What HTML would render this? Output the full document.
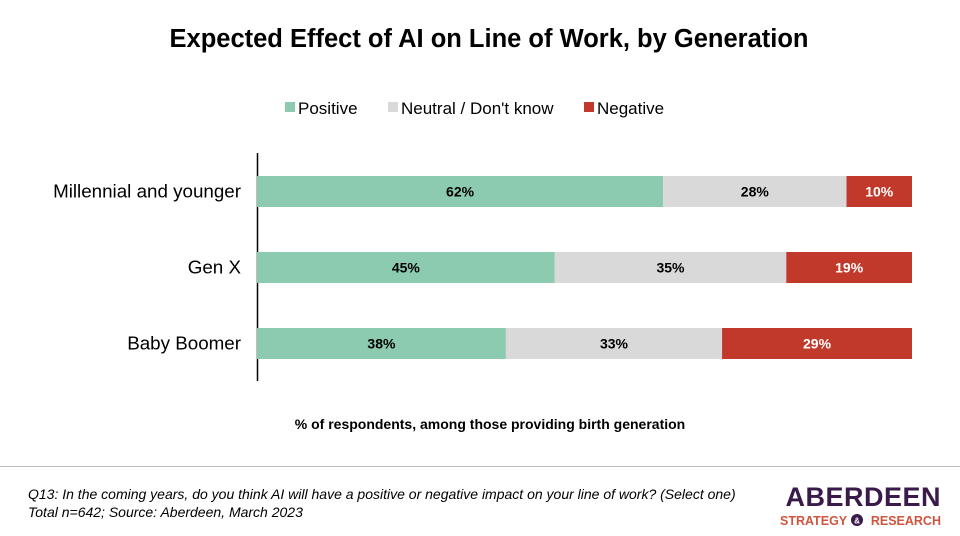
<!DOCTYPE html>
<html><head><meta charset="utf-8"><style>
body{margin:0;background:#fff;font-family:"Liberation Sans",Arial,sans-serif}
#wrap{position:relative;width:960px;height:536px;overflow:hidden}
</style></head><body>
<div id="wrap">
<svg id="chart" width="960" height="536">
<text x="489" y="47" text-anchor="middle" font-size="25.5" font-weight="bold" fill="#000">Expected Effect of AI on Line of Work, by Generation</text>
<g id="legend"></g>
<line x1="257.5" y1="153" x2="257.5" y2="381" stroke="#000" stroke-width="1.5"/>
<g id="bars"></g>
<text x="490" y="429" text-anchor="middle" font-size="14" font-weight="bold">% of respondents, among those providing birth generation</text>
<line x1="0" y1="466.5" x2="960" y2="466.5" stroke="#bbb" stroke-width="1"/>
<text x="28" y="499" font-size="14" font-style="italic">Q13: In the coming years, do you think AI will have a positive or negative impact on your line of work? (Select one)</text>
<text x="28" y="517" font-size="14" font-style="italic">Total n=642; Source: Aberdeen, March 2023</text>
<g>
<text x="941" y="506" text-anchor="end" font-size="27" font-weight="bold" fill="#3a1a4a" letter-spacing="0.5">ABERDEEN</text>
<text x="780" y="525" font-size="12.5" font-weight="bold" fill="#d0553f">STRATEGY</text>
<circle cx="857" cy="520" r="6" fill="#3a1a4a"/>
<text x="857" y="523.5" text-anchor="middle" font-size="8" font-weight="bold" fill="#fff">&amp;</text>
<text x="941" y="525" text-anchor="end" font-size="12.5" font-weight="bold" fill="#d0553f">RESEARCH</text>
</g>
</svg>
</div>
<script>
const categories = ["Millennial and younger","Gen X","Baby Boomer"];
const seriesNames = ["Positive","Neutral / Don't know","Negative"];
const positive = [62,45,38];
const neutral = [28,35,33];
const negative = [10,19,29];
const colors = ["#8ccbb0","#d9d9d9","#c0392b"];
const labelColors = ["#000","#000","#fff"];
const NS="http://www.w3.org/2000/svg";
const x0=257, x1=912, yTop=153, band=76, barH=31;
const xScale = (v,total)=> (v/total)*(x1-x0);
const yScale = i => yTop + 23 + i*band;
function mk(tag,attrs,parent){const e=document.createElementNS(NS,tag);for(const k in attrs)e.setAttribute(k,attrs[k]);parent.appendChild(e);return e;}
const bars=document.getElementById('bars');
const series=[positive,neutral,negative];
categories.forEach((c,i)=>{
  const total=positive[i]+neutral[i]+negative[i];
  const y=yScale(i);
  const lab=mk('text',{x:241,y:y+barH/2+6,'text-anchor':'end','font-size':18.8},bars);
  
  
  lab.textContent=c;
  let acc=0;
  series.forEach((s,j)=>{
    const x=x0+xScale(acc,total), w=xScale(s[i],total);
    const r=mk('rect',{x:x,y:y,width:w,height:barH,fill:colors[j]},bars);
    
    
    const t=mk('text',{x:x+w/2,y:y+barH/2+5,'text-anchor':'middle','font-size':14,'font-weight':'bold',fill:labelColors[j]},bars);
    
    
    t.textContent=s[i]+'%';
    acc+=s[i];
  });
});
const legend=document.getElementById('legend');
const lx=[285,388,584];
seriesNames.forEach((n,j)=>{
  const r=mk('rect',{x:lx[j],y:102,width:10,height:10,fill:colors[j]},legend);
  
  
  const t=mk('text',{x:lx[j]+13,y:114,'font-size':17},legend);
  
  
  t.textContent=n;
});
</script>
</body></html>
